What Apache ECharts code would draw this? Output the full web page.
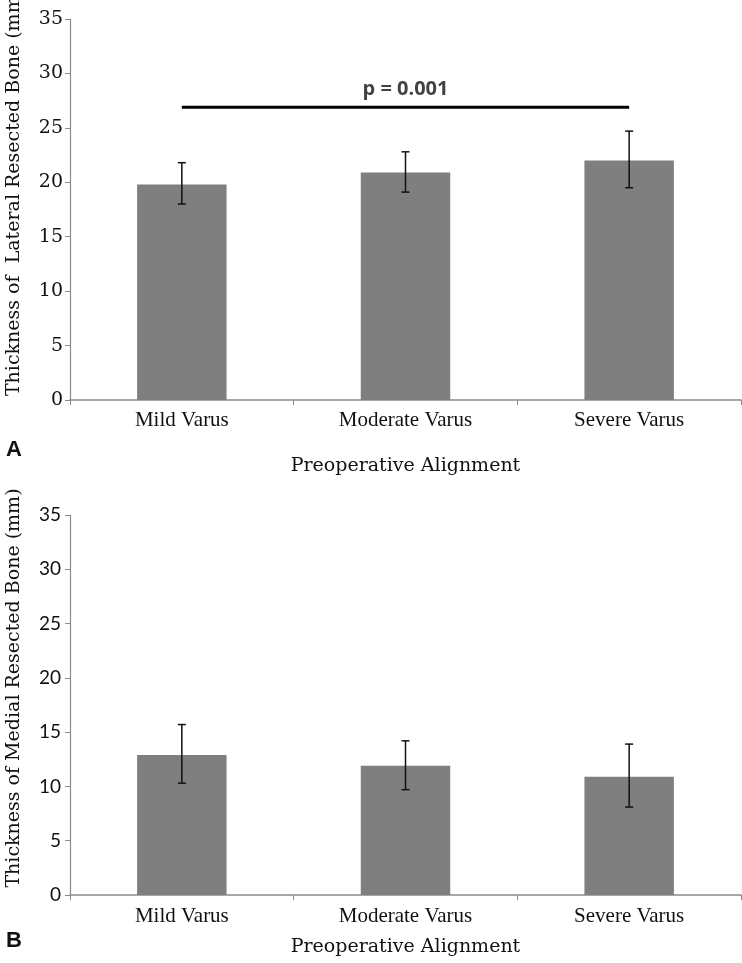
<!DOCTYPE html>
<html>
<head>
<meta charset="utf-8">
<script src="https://cdn.jsdelivr.net/npm/echarts@6/dist/echarts.min.js"></script>
<style>
html,body{margin:0;padding:0;background:#fff;}
#chart{width:742px;height:963px;}
</style>
</head>
<body>
<div id="chart"></div>
<script>
// ---- data ----
var categories = ['Mild Varus', 'Moderate Varus', 'Severe Varus'];
var yTicks = [0, 5, 10, 15, 20, 25, 30, 35];

var lateralMean = [19.8, 20.9, 22.0];
var lateralLow  = [18.0, 19.1, 19.5];
var lateralHigh = [21.8, 22.8, 24.7];

var medialMean = [12.9, 11.9, 10.9];
var medialLow  = [10.3, 9.7, 8.1];
var medialHigh = [15.7, 14.2, 13.9];

var pValueText = 'p = 0.001';
var pBracketLevel = 26.9;

var xAxisTitle = 'Preoperative Alignment';
var yTitleA = 'Thickness of  Lateral Resected Bone (mm)';
var yTitleB = 'Thickness of Medial Resected Bone (mm)';
var panelLabels = ['A', 'B'];

// ---- chart ----
var chart = echarts.init(document.getElementById('chart'), null, {renderer: 'canvas'});

function errData(low, high) {
  return categories.map(function (c, i) { return [i, low[i], high[i]]; });
}
function renderErr(params, api) {
  var x = api.value(0);
  var lo = api.coord([x, api.value(1)]);
  var hi = api.coord([x, api.value(2)]);
  var hw = 4;
  var st = {stroke: '#111', lineWidth: 1.5};
  return {
    type: 'group',
    children: [
      {type: 'line', shape: {x1: lo[0], y1: lo[1], x2: hi[0], y2: hi[1]}, style: st},
      {type: 'line', shape: {x1: lo[0] - hw, y1: lo[1], x2: lo[0] + hw, y2: lo[1]}, style: st},
      {type: 'line', shape: {x1: hi[0] - hw, y1: hi[1], x2: hi[0] + hw, y2: hi[1]}, style: st}
    ]
  };
}

var serifTitle = '"DejaVu Serif"';
var axisGray = '#8a8a8a';

function makeX(gridIndex, labelMargin, nameGap) {
  return {
    type: 'category', gridIndex: gridIndex, data: categories,
    axisLine: {lineStyle: {color: axisGray, width: 1.5}},
    axisTick: {show: true, alignWithLabel: false, length: 5, lineStyle: {color: axisGray}},
    axisLabel: {color: '#111', fontFamily: '"Liberation Serif"', fontSize: 21, margin: labelMargin},
    name: xAxisTitle, nameLocation: 'middle', nameGap: nameGap,
    nameTextStyle: {color: '#111', fontFamily: serifTitle, fontSize: 19}
  };
}
function makeY(gridIndex, fontFamily, fontSize, margin) {
  return {
    type: 'value', gridIndex: gridIndex, min: yTicks[0], max: yTicks[yTicks.length - 1], interval: 5,
    splitLine: {show: false},
    axisLine: {show: true, lineStyle: {color: axisGray, width: 1.2}},
    axisTick: {show: true, length: 5, lineStyle: {color: axisGray}},
    axisLabel: {color: '#111', fontFamily: fontFamily, fontSize: fontSize, margin: margin}
  };
}

var option = {
  animation: false,
  backgroundColor: '#ffffff',
  grid: [
    {left: 70, top: 19, width: 671, height: 381},
    {left: 70, top: 515, width: 671, height: 380}
  ],
  xAxis: [makeX(0, 10, 57), makeX(1, 11, 43)],
  yAxis: [makeY(0, '"DejaVu Serif"', 19, 7), makeY(1, 'Lato', 19, 9)],
  graphic: [
    {type: 'text', left: 6, top: 439, style: {text: panelLabels[0], font: 'bold 22px "Liberation Sans"', fill: '#111'}},
    {type: 'text', left: 6, top: 930, style: {text: panelLabels[1], font: 'bold 22px "Liberation Sans"', fill: '#111'}},
    {type: 'text', x: 14, y: 192, rotation: Math.PI / 2,
     style: {text: yTitleA, font: '19px "DejaVu Serif"', fill: '#111', align: 'center', verticalAlign: 'middle'}},
    {type: 'text', x: 14, y: 688, rotation: Math.PI / 2,
     style: {text: yTitleB, font: '19px "DejaVu Serif"', fill: '#111', align: 'center', verticalAlign: 'middle'}}
  ],
  series: [
    {type: 'bar', xAxisIndex: 0, yAxisIndex: 0, data: lateralMean, barWidth: '40%',
     itemStyle: {color: '#7f7f7f'}},
    {type: 'custom', xAxisIndex: 0, yAxisIndex: 0, data: errData(lateralLow, lateralHigh),
     renderItem: renderErr, z: 5},
    {type: 'line', xAxisIndex: 0, yAxisIndex: 0,
     data: [[categories[0], pBracketLevel], [categories[2], pBracketLevel]],
     showSymbol: false, symbol: 'none', lineStyle: {color: '#000', width: 3}, z: 6},
    {type: 'scatter', xAxisIndex: 0, yAxisIndex: 0,
     data: [[categories[1], pBracketLevel]], symbolSize: 0,
     label: {show: true, position: 'top', distance: 8, formatter: pValueText,
             color: '#111', fontFamily: '"Open Sans"', fontWeight: 'bold', fontSize: 20}},
    {type: 'bar', xAxisIndex: 1, yAxisIndex: 1, data: medialMean, barWidth: '40%',
     itemStyle: {color: '#7f7f7f'}},
    {type: 'custom', xAxisIndex: 1, yAxisIndex: 1, data: errData(medialLow, medialHigh),
     renderItem: renderErr, z: 5}
  ]
};
chart.setOption(option);
</script>
</body>
</html>
